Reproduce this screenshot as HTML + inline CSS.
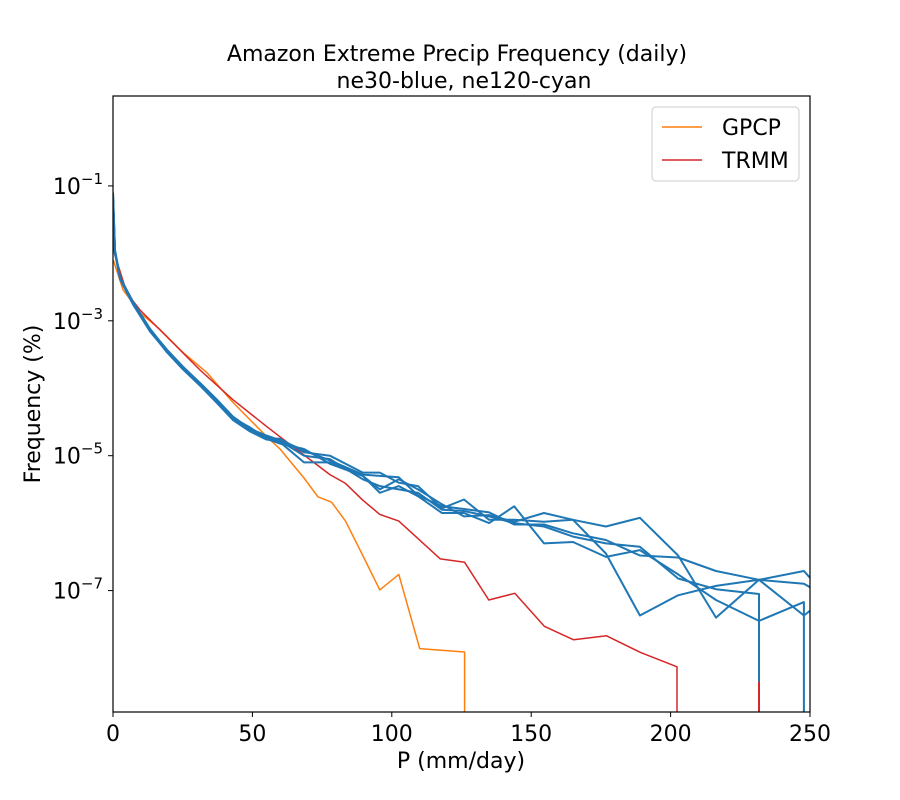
<!DOCTYPE html>
<html><head><meta charset="utf-8"><style>
body{margin:0;background:#fff;}
svg{display:block;font-family:"DejaVu Sans","Liberation Sans",sans-serif;}
</style></head><body>
<svg id="chart" width="900" height="800" viewBox="0 0 900 800">
<rect width="900" height="800" fill="#fff"/>
<text x="457" y="61" font-size="22" text-anchor="middle">Amazon Extreme Precip Frequency (daily)</text>
<text x="464" y="88" font-size="22" text-anchor="middle">ne30-blue, ne120-cyan</text>
<g id="series" clip-path="url(#clip)"></g>
<clipPath id="clip"><rect x="113" y="96" width="697" height="616"/></clipPath>
<rect x="113" y="96" width="697" height="616" fill="none" stroke="#000" stroke-width="1.2"/>
<g id="axes"></g>
<text x="461" y="768" font-size="22" text-anchor="middle">P (mm/day)</text>
<text transform="translate(40,404) rotate(-90)" font-size="22" text-anchor="middle">Frequency (%)</text>
<g>
<rect x="652" y="107" width="147" height="74" rx="4" fill="#fff" stroke="#ccc"/>
<line x1="662" y1="127" x2="702" y2="127" stroke="#ff7f0e" stroke-width="1.5"/>
<text x="722" y="135" font-size="22">GPCP</text>
<line x1="662" y1="160" x2="702" y2="160" stroke="#d62728" stroke-width="1.5"/>
<text x="722" y="168" font-size="22">TRMM</text>
</g>
</svg>
<script>
// x in mm/day, y as log10(frequency); null => drop to zero (vertical at previous x)
const xTicks = [0, 50, 100, 150, 200, 250];
const yTickExps = [-1, -3, -5, -7];
const blueX = [0, 0.7, 2.5, 7.2, 13.3, 19.4, 25.1, 31.2, 37.3, 43, 49.1, 55, 59.9, 68.5, 77.8, 89.6, 95.7, 102.5, 109.4, 118, 125.9, 134.9, 143.9, 154.6, 165, 176.8, 189, 202.7, 216.3, 231.7, 247.8, 250];
const blue1 = [-1.1, -1.95, -2.35, -2.73, -3.13, -3.43, -3.68, -3.92, -4.17, -4.42, -4.6, -4.7, -4.77, -4.92, -5.07, -5.28, -5.3, -5.32, -5.59, -5.75, -5.79, -5.84, -6.02, -6.02, -6.15, -6.25, -6.48, -6.51, -6.71, -6.84, -6.71, -6.81];
const blue2 = [-1.2, -2.0, -2.38, -2.76, -3.16, -3.46, -3.7, -3.95, -4.2, -4.45, -4.62, -4.72, -4.8, -5.1, -5.1, -5.3, -5.55, -5.45, -5.6, -5.85, -5.85, -6.0, -5.75, -6.3, -6.28, -6.5, -6.4, -6.76, -7.14, -7.45, -7.17, null];
const blue3 = [-1.15, -1.97, -2.36, -2.74, -3.14, -3.45, -3.69, -3.93, -4.18, -4.44, -4.58, -4.74, -4.75, -4.95, -5.0, -5.25, -5.25, -5.4, -5.45, -5.78, -5.65, -5.95, -5.95, -5.98, -5.95, -6.05, -5.92, -6.48, -7.4, -6.84, -7.37, -7.3];
const blue4 = [-1.1, -1.96, -2.37, -2.75, -3.15, -3.47, -3.72, -3.96, -4.22, -4.47, -4.64, -4.76, -4.78, -5.0, -5.05, -5.35, -5.45, -5.5, -5.55, -5.8, -5.82, -5.9, -6.0, -6.05, -6.2, -6.3, -6.35, -6.82, -6.98, -7.05, null, null];
const blue5 = [-1.2, -1.98, -2.36, -2.72, -3.12, -3.44, -3.71, -3.94, -4.19, -4.43, -4.63, -4.75, -4.82, -4.9, -5.12, -5.3, -5.5, -5.35, -5.5, -5.72, -5.9, -5.88, -5.98, -5.85, -5.95, -6.45, -7.37, -7.07, -6.93, -6.84, -6.9, -6.95];
const gpcpX = [0.1, 3.6, 9.7, 16.9, 25.1, 33.7, 43, 55.2, 59.9, 68.5, 73.5, 78.4, 83.4, 89.6, 95.7, 102.5, 110, 126.1, 130];
const gpcpY = [-2.1, -2.54, -2.88, -3.13, -3.47, -3.77, -4.21, -4.72, -4.9, -5.33, -5.61, -5.69, -5.97, -6.48, -6.99, -6.76, -7.86, -7.91, null];
const trmmX = [0, 0.5, 5, 9.7, 19.4, 31.2, 43, 55.2, 59.9, 71.4, 77.8, 83.4, 89.6, 95.7, 102.5, 117.4, 126.1, 134.8, 144.1, 154.7, 165.2, 177, 189.3, 202.3, 206];
const trmmY = [-1.5, -2.0, -2.59, -2.84, -3.24, -3.73, -4.17, -4.57, -4.72, -5.08, -5.28, -5.41, -5.66, -5.87, -5.97, -6.53, -6.58, -7.14, -7.04, -7.53, -7.73, -7.67, -7.92, -8.13, null];
const trmmSpikeX = [231.7, 231.7];
const trmmSpikeY = [null, -8.35];

const X0 = 113, X1 = 810, Y0 = 96, Y1 = 712;
const xMin = 0, xMax = 250, lMax = 0.333, lMin = -8.8;
function sx(v){ return X0 + (v - xMin) / (xMax - xMin) * (X1 - X0); }
function sy(l){ if (l === null) return Y1 + 5; return Y0 + (lMax - l) / (lMax - lMin) * (Y1 - Y0); }
const NS = 'http://www.w3.org/2000/svg';
const g = document.getElementById('series');
function drawLine(xs, ys, color, w, name){
  const pts = [];
  for (let i = 0; i < xs.length; i++) {
    let x = xs[i];
    if (ys[i] === null && i > 0) { x = xs[i - 1]; pts.push(sx(x).toFixed(1) + ',' + sy(null).toFixed(1)); break; }
    pts.push(sx(x).toFixed(1) + ',' + sy(ys[i]).toFixed(1));
  }
  const p = document.createElementNS(NS, 'polyline');
  p.setAttribute('points', pts.join(' '));
  p.setAttribute('fill', 'none');
  p.setAttribute('stroke', color);
  p.setAttribute('stroke-width', w);
  p.setAttribute('stroke-linejoin', 'round');
  
  
  g.appendChild(p);
}
drawLine(gpcpX, gpcpY, '#ff7f0e', 1.5, 'gpcp-line');
drawLine(trmmX, trmmY, '#d62728', 1.5, 'trmm-line');
drawLine(blueX, blue1, '#1f77b4', 2, 'ne30-line-1');
drawLine(blueX, blue2, '#1f77b4', 2, 'ne30-line-2');
drawLine(blueX, blue3, '#1f77b4', 2, 'ne30-line-3');
drawLine(blueX, blue4, '#1f77b4', 2, 'ne30-line-4');
drawLine(blueX, blue5, '#1f77b4', 2, 'ne30-line-5');
drawLine(trmmSpikeX, trmmSpikeY, '#d62728', 2, 'trmm-spike');
const ax = document.getElementById('axes');
xTicks.forEach(t => {
  const l = document.createElementNS(NS, 'line');
  l.setAttribute('x1', sx(t)); l.setAttribute('x2', sx(t));
  l.setAttribute('y1', Y1); l.setAttribute('y2', Y1 + 5);
  l.setAttribute('stroke', '#000');
  
  
  ax.appendChild(l);
  const tx = document.createElementNS(NS, 'text');
  tx.setAttribute('x', sx(t)); tx.setAttribute('y', Y1 + 29);
  tx.setAttribute('font-size', '22'); tx.setAttribute('text-anchor', 'middle');
  tx.textContent = t;
  
  
  ax.appendChild(tx);
});
yTickExps.forEach(e => {
  const y = sy(e);
  const l = document.createElementNS(NS, 'line');
  l.setAttribute('x1', X0 - 5); l.setAttribute('x2', X0);
  l.setAttribute('y1', y); l.setAttribute('y2', y);
  l.setAttribute('stroke', '#000');
  
  
  ax.appendChild(l);
  const tx = document.createElementNS(NS, 'text');
  tx.setAttribute('x', X0 - 10); tx.setAttribute('y', y + 8);
  tx.setAttribute('font-size', '22'); tx.setAttribute('text-anchor', 'end');
  tx.innerHTML = '10<tspan dy="-10" font-size="15">\u2212' + Math.abs(e) + '</tspan>';
  
  
  ax.appendChild(tx);
});
</script>
</body></html>
